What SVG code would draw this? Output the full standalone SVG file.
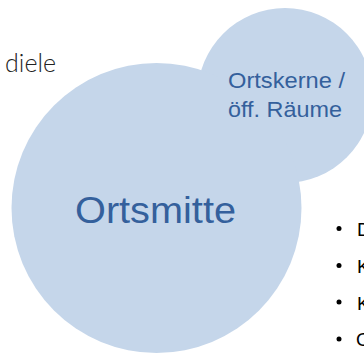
<svg xmlns="http://www.w3.org/2000/svg" width="364" height="353" viewBox="0 0 364 353">
<style>
.bubble{fill:#c5d6ea}
.lbl{font-family:"Liberation Sans",Arial,sans-serif;fill:#34609c}
.txt{font-family:Lato,"Liberation Sans",sans-serif;font-weight:300;fill:#222}
.bul{font-family:"Liberation Sans",Arial,sans-serif;font-size:19px;fill:#000}
</style>
<rect width="364" height="353" fill="#ffffff"/>
<g id="heading-fragment">
<text class="txt" x="56" y="72" font-size="25" text-anchor="end">diele</text>
</g>
<g id="node-ortskerne">
<circle class="bubble" cx="285" cy="95.5" r="87.5"/>
</g>
<g id="node-ortsmitte">
<circle class="bubble" cx="156.5" cy="208" r="145"/>
<text class="lbl" x="75" y="223" font-size="36" textLength="161" lengthAdjust="spacingAndGlyphs">Ortsmitte</text>
</g>
<g id="label-ortskerne">
<text class="lbl" x="228" y="88" font-size="22" textLength="117" lengthAdjust="spacingAndGlyphs">Ortskerne /</text>
<text class="lbl" x="228" y="117" font-size="22" textLength="114" lengthAdjust="spacingAndGlyphs">öff. Räume</text>
</g>
<g id="bullet-list">
<circle cx="339" cy="228.5" r="2.5" fill="#000"/>
<circle cx="339" cy="265.5" r="2.5" fill="#000"/>
<circle cx="339" cy="302" r="2.5" fill="#000"/>
<circle cx="339" cy="339" r="2.5" fill="#000"/>
<text class="bul" x="357" y="236">D</text>
<text class="bul" x="357" y="273">K</text>
<text class="bul" x="357" y="310">K</text>
<text class="bul" x="356" y="346">O</text>
</g>
</svg>
